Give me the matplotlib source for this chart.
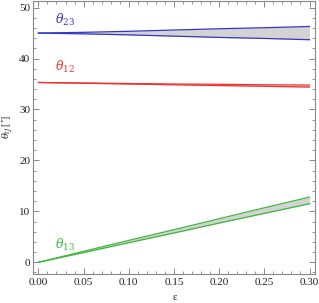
import matplotlib
matplotlib.use("Agg")
import matplotlib.pyplot as plt
import numpy as np
from matplotlib.ticker import MultipleLocator

# epsilon grid and band edges
eps = [0.0, 0.05, 0.10, 0.15, 0.20, 0.25, 0.30]
t23_hi = [45.0, 45.15, 45.35, 45.6, 45.85, 46.05, 46.3]
t23_lo = [45.0, 44.85, 44.65, 44.4, 44.15, 43.95, 43.7]
t12_hi = [35.3, 35.2, 35.1, 35.0, 34.95, 34.85, 34.8]
t12_lo = [35.3, 35.15, 35.0, 34.85, 34.7, 34.55, 34.4]
t13_hi = [0.0, 2.15, 4.3, 6.4, 8.55, 10.7, 12.8]
t13_lo = [0.0, 1.9, 3.85, 5.75, 7.7, 9.6, 11.5]

bands = [(t23_hi, t23_lo, '#3535c8'), (t12_hi, t12_lo, '#f03030'),
         (t13_hi, t13_lo, '#3cb83c')]
labels = [(r'$\theta_{23}$', 0.018, 47.5, '#3535c8'),
          (r'$\theta_{12}$', 0.018, 38.4, '#f03030'),
          (r'$\theta_{13}$', 0.018, 3.4, '#3cb83c')]

plt.rcParams['font.family'] = ['Liberation Serif', 'DejaVu Serif']
plt.rcParams['mathtext.fontset'] = 'dejavuserif'

fig = plt.figure(figsize=(3.19, 3.03), dpi=100)
ax = fig.add_axes([33 / 319, 29 / 303, 281.5 / 319, 273 / 303])

for hi, lo, c in bands:
    ax.fill_between(eps, lo, hi, color='#d3d3d3', lw=0)
    ax.plot(eps, hi, color=c, lw=0.9)
    ax.plot(eps, lo, color=c, lw=0.9)

for txt, x, y, c in labels:
    ax.text(x, y, txt, color=c, fontsize=9, ha='left', va='center')

ax.set_xlim(-0.006, 0.3055)
ax.set_ylim(-2.3, 51.3)
ax.xaxis.set_major_locator(MultipleLocator(0.05))
ax.xaxis.set_minor_locator(MultipleLocator(0.01))
ax.yaxis.set_major_locator(MultipleLocator(10))
ax.yaxis.set_minor_locator(MultipleLocator(2))
ax.xaxis.set_major_formatter(plt.FuncFormatter(lambda v, p: '%.2f' % v))
ax.tick_params(which='both', direction='in', top=True, right=True,
               color='#888888', labelsize=8, labelcolor='#222222')
ax.tick_params(which='major', length=4, width=0.7)
ax.tick_params(which='minor', length=2, width=0.6)
ax.tick_params(axis='x', pad=3)
ax.tick_params(axis='y', pad=2)
for s in ax.spines.values():
    s.set_color('#888888')
    s.set_linewidth(0.8)

fig.text(175 / 319, 1 - 297 / 303, 'ε', fontsize=7.5, ha='center',
         va='center', color='#222222')
fig.text(8 / 319, 1 - 127 / 303, r'$\theta_{ij}$ [$^{\circ}$]', fontsize=7,
         rotation=90, ha='center', va='center', color='#222222')

fig.savefig('out.png', dpi=100)
